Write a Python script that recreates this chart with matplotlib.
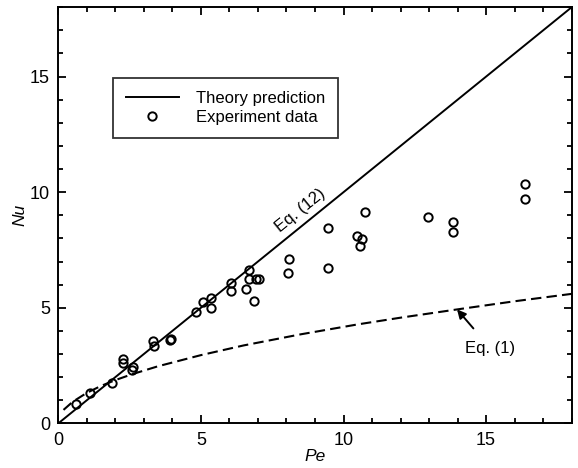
import matplotlib.pyplot as plt
from matplotlib.ticker import MultipleLocator

plt.rcParams['font.family'] = ['Liberation Sans', 'DejaVu Sans']

# experiment data
pe_exp = [0.61, 1.11, 1.89, 2.28, 2.28, 2.60, 2.57, 3.33, 3.35, 3.94, 3.90,
          4.82, 5.07, 5.35, 5.35, 6.06, 6.06, 6.69, 6.57, 6.69, 6.94, 7.02, 6.87,
          8.09, 8.07, 9.47, 9.44, 10.74, 10.49, 10.66, 10.59,
          12.98, 13.84, 13.84, 16.38, 16.38]
nu_exp = [0.84, 1.32, 1.76, 2.77, 2.62, 2.45, 2.31, 3.58, 3.35, 3.64, 3.60,
          4.80, 5.24, 5.44, 5.00, 6.09, 5.73, 6.64, 5.81, 6.23, 6.23, 6.23, 5.29,
          7.11, 6.49, 8.44, 6.71, 9.13, 8.12, 7.98, 7.69,
          8.92, 8.70, 8.27, 10.36, 9.70]

# theory prediction, Eq. (12)
pe_theory = [0, 18]
nu_theory = [0, 18]

# Eq. (1) curve
pe_eq1 = [0.18, 0.5, 1.0, 1.5, 2.0, 2.6, 3.5, 5.0, 6.5, 8.5, 10.5, 12.0, 14.0, 16.0, 18.0]
nu_eq1 = [0.58, 0.93, 1.32, 1.62, 1.87, 2.13, 2.47, 2.95, 3.37, 3.85, 4.28, 4.57, 4.93, 5.28, 5.60]

fig = plt.figure(figsize=(5.78, 4.68), dpi=100)
ax = fig.add_axes([0.101, 0.0955, 0.888, 0.889])

ax.plot(pe_theory, nu_theory, color='black', lw=1.4, label='Theory prediction')
ax.plot(pe_exp, nu_exp, 'o', mfc='none', mec='black', ms=6, mew=1.4,
        label='Experiment data')
ax.plot(pe_eq1, nu_eq1, color='black', lw=1.5, dashes=(5, 2.5))

ax.set_xlim(0, 18)
ax.set_ylim(0, 18)
ax.xaxis.set_major_locator(MultipleLocator(5))
ax.xaxis.set_minor_locator(MultipleLocator(1))
ax.yaxis.set_major_locator(MultipleLocator(5))
ax.yaxis.set_minor_locator(MultipleLocator(1))
ax.tick_params(which='both', direction='in', top=True, right=True,
               labelsize=13, width=1.3, pad=6)
ax.tick_params(which='major', length=6)
ax.tick_params(which='minor', length=3.5)
for s in ax.spines.values():
    s.set_linewidth(1.4)

ax.set_xlabel('Pe', fontsize=12.5, style='italic', labelpad=0)
ax.set_ylabel('Nu', fontsize=12.5, style='italic', labelpad=2)

ax.text(8.5, 9.2, 'Eq. (12)', fontsize=12, rotation=39,
        ha='center', va='center')
ax.annotate('Eq. (1)', xy=(13.98, 4.93), xytext=(15.15, 3.25),
            fontsize=12, ha='center', va='center',
            arrowprops=dict(arrowstyle='-|>', color='black', lw=1.4,
                            mutation_scale=13, shrinkA=9, shrinkB=0))

leg = ax.legend(loc='upper left', bbox_to_anchor=(0.107, 0.829), fontsize=12,
                frameon=True, fancybox=False, edgecolor='black',
                handlelength=3.2, handletextpad=1.0, borderpad=0.75,
                labelspacing=0.25, borderaxespad=0)
leg.get_frame().set_linewidth(1.3)

fig.savefig('out.png', dpi=100)
